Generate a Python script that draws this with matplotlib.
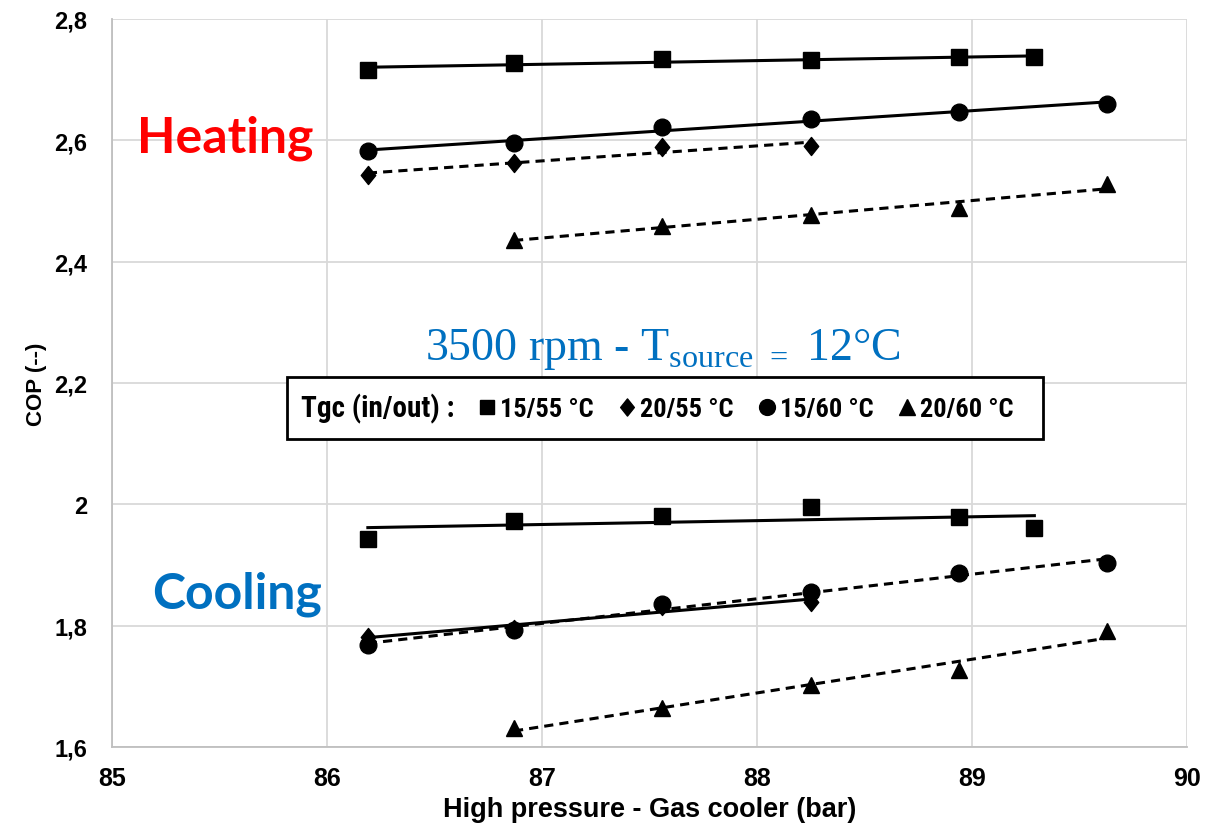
import matplotlib
matplotlib.use("Agg")
import matplotlib.pyplot as plt
import numpy as np
from matplotlib.lines import Line2D
from matplotlib.path import Path
from matplotlib.patches import Rectangle
from matplotlib.ticker import FuncFormatter, MultipleLocator
from matplotlib import font_manager as fm

# ---------------- data ----------------
x_sq = [86.19, 86.87, 87.56, 88.25, 88.94, 89.29]
x_ci = [86.19, 86.87, 87.56, 88.25, 88.94, 89.63]
x_di = [86.19, 86.87, 87.56, 88.25]
x_tr = [86.87, 87.56, 88.25, 88.94, 89.63]

heat_sq = [2.716, 2.727, 2.734, 2.732, 2.737, 2.737]   # 15/55
heat_di = [2.543, 2.563, 2.589, 2.591]                 # 20/55
heat_ci = [2.582, 2.596, 2.622, 2.635, 2.647, 2.660]   # 15/60
heat_tr = [2.436, 2.459, 2.477, 2.488, 2.528]          # 20/60

cool_sq = [1.943, 1.973, 1.981, 1.996, 1.979, 1.961]
cool_di = [1.781, 1.795, 1.833, 1.839]
cool_ci = [1.768, 1.793, 1.836, 1.856, 1.887, 1.903]
cool_tr = [1.631, 1.664, 1.702, 1.727, 1.791]

legend_labels = ["15/55 °C", "20/55 °C", "15/60 °C", "20/60 °C"]
x_ticks = [85, 86, 87, 88, 89, 90]

names = sorted({f.name for f in fm.fontManager.ttflist})
narrow_fam = None
for cand in ["Liberation Sans Narrow", "Arial Narrow", "Roboto Condensed",
             "Open Sans Condensed", "DejaVu Sans Condensed"]:
    if cand in names:
        narrow_fam = cand
        break
NARROW = [narrow_fam, "DejaVu Sans"] if narrow_fam else ["DejaVu Sans"]
NSTRETCH = "normal" if narrow_fam else "condensed"
ARIAL = ["Liberation Sans", "DejaVu Sans"]

plt.rcParams["mathtext.fontset"] = "custom"
plt.rcParams["mathtext.rm"] = "Liberation Serif"

fig = plt.figure(figsize=(12.05, 8.29), dpi=100)
ax = fig.add_axes([112/1205, 1-748/829, (1187-112)/1205, (748-20)/829])

diamond = Path([(0, 1), (0.8, 0), (0, -1), (-0.8, 0), (0, 1)],
               [Path.MOVETO, Path.LINETO, Path.LINETO, Path.LINETO, Path.CLOSEPOLY])
markers = {"sq": dict(marker="s", ms=11), "di": dict(marker=diamond, ms=13),
           "ci": dict(marker="o", ms=12), "tr": dict(marker="^", ms=12)}

def series(x, y, key, dashed):
    x = np.asarray(x); y = np.asarray(y)
    ax.plot(x, y, ls="none", color="black", zorder=3, **markers[key])
    a, b = np.polyfit(x, y, 1)
    xs = np.array([x.min(), x.max()])
    if dashed:
        ax.plot(xs, a*xs + b, color="black", lw=2.2, ls=(0, (3, 2)), zorder=4)
    else:
        ax.plot(xs, a*xs + b, color="black", lw=2.2, zorder=4)

series(x_sq, heat_sq, "sq", False)
series(x_ci, heat_ci, "ci", False)
series(x_di, heat_di, "di", True)
series(x_tr, heat_tr, "tr", True)
series(x_sq, cool_sq, "sq", False)
series(x_di, cool_di, "di", False)
series(x_ci, cool_ci, "ci", True)
series(x_tr, cool_tr, "tr", True)

ax.set_xlim(85, 90)
ax.set_ylim(1.6, 2.8)
ax.set_xticks(x_ticks)
ax.yaxis.set_major_locator(MultipleLocator(0.2))
def yfmt(v, pos):
    s = f"{v:.1f}".replace(".", ",")
    return s[:-2] if s.endswith(",0") else s
ax.yaxis.set_major_formatter(FuncFormatter(yfmt))
ax.grid(True, color="#d9d9d9", lw=1.3)
ax.set_axisbelow(True)
for s in ["top", "right"]:
    ax.spines[s].set_visible(False)
for s in ["left", "bottom"]:
    ax.spines[s].set_color("#bfbfbf")
    ax.spines[s].set_linewidth(1.3)
ax.tick_params(length=0)
ax.tick_params(axis="y", pad=18)
ax.tick_params(axis="x", pad=14)
for lab in ax.get_yticklabels():
    lab.set_fontfamily(ARIAL)
    lab.set_fontweight("bold"); lab.set_fontsize(17)
for lab in ax.get_xticklabels():
    lab.set_fontfamily(ARIAL)
    lab.set_fontweight("bold"); lab.set_fontsize(18)

ax.set_xlabel("High pressure - Gas cooler (bar)", fontfamily=ARIAL,
              fontweight="bold", fontsize=19.5, labelpad=4)
ax.set_ylabel("COP (--)", fontfamily=ARIAL,
              fontweight="bold", fontsize=16, labelpad=5)

ax.text(0.105, 0.838, "Heating", transform=ax.transAxes, color="#ff0000",
        fontsize=36, fontweight="bold", fontfamily=["Lato", "DejaVu Sans"],
        ha="center", va="center")
ax.text(0.116, 0.2115, "Cooling", transform=ax.transAxes, color="#0070c0",
        fontsize=36, fontweight="bold", fontfamily=["Lato", "DejaVu Sans"],
        ha="center", va="center")
ax.text(0.5126, 0.533, r"3500 rpm - T$_{\mathrm{source\ =}}$ 12°C",
        transform=ax.transAxes, color="#0070c0", fontsize=33,
        fontfamily=["Liberation Serif", "DejaVu Serif"], ha="center", va="baseline")

# legend box
box = Rectangle((0.1628, 0.4231), 0.866 - 0.1628, 0.5082 - 0.4231,
                transform=ax.transAxes, facecolor="white", edgecolor="black",
                lw=2, zorder=9)
ax.add_patch(box)

handles = [Line2D([], [], ls="none", marker="None")]
labels = ["Tgc (in/out) :"]
for key, lab in zip(["sq", "di", "ci", "tr"], legend_labels):
    mk = dict(markers[key]); mk["ms"] = mk["ms"] * 0.95
    handles.append(Line2D([], [], ls="none", color="black", **mk))
    labels.append(lab)
leg = ax.legend(handles, labels, ncol=5, loc="center left",
                bbox_to_anchor=(0.1535, 0.4657), borderaxespad=0,
                prop={"family": NARROW, "weight": "bold", "size": 19,
                      "stretch": NSTRETCH},
                handlelength=0.8, handletextpad=0.1, columnspacing=0.85,
                frameon=False, borderpad=0)
leg.get_texts()[0].set_fontsize(21)
leg.set_zorder(10)

fig.savefig("out.png", dpi=100)
